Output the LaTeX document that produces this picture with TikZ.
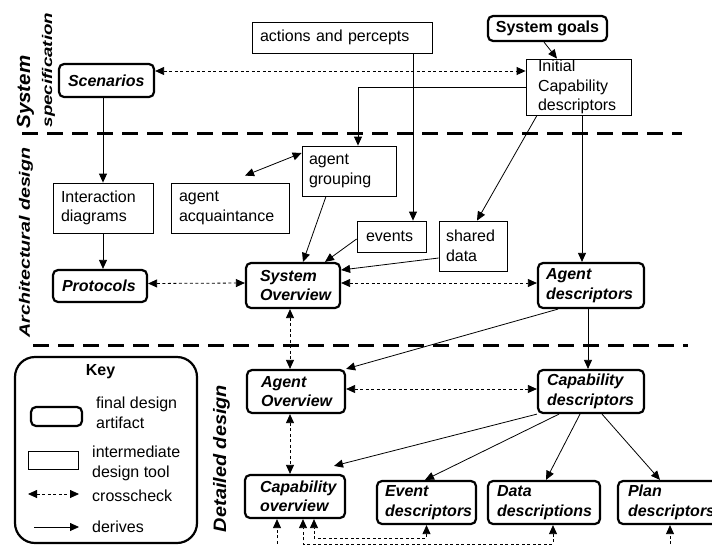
\documentclass[tikz,border=0pt]{standalone}
\usepackage{fontspec}
\setmainfont{Liberation Sans}
\usepackage{graphicx}
\usetikzlibrary{arrows.meta,calc}
\newcommand{\plainsize}{\fontsize{16pt}{19.5pt}\selectfont}
\tikzset{
  artifact/.style={draw, line width=2.2pt, rounded corners=5pt, align=left,
    inner ysep=0pt, font=\plainsize\bfseries\itshape},
  tool/.style={draw, line width=0.8pt, align=left, inner ysep=0pt, font=\plainsize},
  derive/.style={line width=0.8pt, ->},
  bothways/.style={line width=0.8pt, <->},
  crosscheck/.style={line width=0.8pt, dash pattern=on 3pt off 2.5pt, <->},
  crossin/.style={line width=0.8pt, dash pattern=on 3pt off 2.5pt, ->},
  phase/.style={line width=3pt, dash pattern=on 16pt off 9pt},
  sidelabel/.style={rotate=90, inner sep=0pt},
  keytext/.style={anchor=west, inner sep=0pt, align=left, font=\plainsize},
}
\begin{document}
\begin{tikzpicture}[x=1pt, y=-1pt, >={Triangle[length=9pt,width=8pt]}]
\useasboundingbox (0,0) rectangle (712,544);
\clip (0,0) rectangle (712,544);

% phase separators
\coordinate (sepAa) at (22,133);
\coordinate (sepAb) at (682,133);
\coordinate (sepBa) at (33,345);
\coordinate (sepBb) at (688,345);
\draw[phase] (sepAa) -- (sepAb);
\draw[phase] (sepBa) -- (sepBb);

% phase names
\node[sidelabel, font=\fontsize{19pt}{21pt}\selectfont\bfseries\itshape] (lblsys) at (25.5,92) {\scalebox{1.08}[1]{System}};
\node[sidelabel, font=\fontsize{14pt}{16pt}\selectfont\bfseries\itshape] (lblspec) at (48.5,70) {\scalebox{1.34}[1]{specification}};
\node[sidelabel, font=\fontsize{15pt}{17pt}\selectfont\bfseries\itshape] (lblarch) at (26,242.5) {\scalebox{1.31}[1]{Architectural design}};
\node[sidelabel, font=\fontsize{18pt}{20pt}\selectfont\bfseries\itshape] (lbldet) at (221.5,458.5) {\scalebox{1.105}[1]{Detailed design}};

% system specification
\node[tool, text width=164pt, inner xsep=8pt, minimum height=31pt] (ap) at (342,37.5) {actions and percepts};
\node[artifact, font=\plainsize\bfseries, align=center, minimum width=119pt, minimum height=25pt, inner xsep=0pt] (sg) at (547.5,28.5) {System goals};
\node[tool, text width=81pt, inner xsep=12pt, minimum height=56pt] (icd) at (578.5,87) {Initial\\Capability\\descriptors};
\node[artifact, text width=77pt, inner xsep=9pt, minimum height=33pt] (sc) at (106.5,80.5) {Scenarios};

% architectural design
\node[tool, text width=84pt, inner xsep=8pt, minimum height=50pt] (id) at (103,208) {Interaction\\diagrams};
\node[tool, text width=102pt, inner xsep=8pt, minimum height=50pt] (aa) at (230,208) {agent\\acquaintance};
\node[tool, text width=80pt, inner xsep=7pt, minimum height=50pt] (ag) at (349,171) {agent\\grouping};
\node[tool, text width=51pt, inner xsep=9pt, minimum height=31pt] (ev) at (391.5,236.5) {events};
\node[tool, text width=54pt, inner xsep=7pt, minimum height=50pt] (sd) at (473,246) {shared\\data};
\node[artifact, text width=76pt, inner xsep=9pt, minimum height=32pt] (pr) at (100,286) {Protocols};
\node[artifact, text width=66pt, inner xsep=14pt, minimum height=45pt] (so) at (293,285.5) {System\\Overview};
\node[artifact, text width=90pt, inner xsep=8pt, minimum height=45pt] (ad) at (591,285.5) {Agent\\descriptors};

% detailed design
\node[artifact, text width=70pt, inner xsep=14pt, minimum height=43pt] (ao) at (296,391.5) {Agent\\Overview};
\node[artifact, text width=88pt, inner xsep=9pt, minimum height=43pt] (cd) at (591,391.5) {Capability\\descriptors};
\node[artifact, text width=70pt, inner xsep=15pt, minimum height=43pt] (co) at (295,496.5) {Capability\\overview};
\node[artifact, text width=83pt, inner xsep=8pt, minimum height=43pt] (ed) at (426.5,502.5) {Event\\descriptors};
\node[artifact, text width=94pt, inner xsep=9pt, minimum height=43pt] (dd) at (544,502.5) {Data\\descriptions};
\node[artifact, text width=82pt, inner xsep=10pt, minimum height=43pt] (pd) at (669,502.5) {Plan\\descriptors};

% derivations
\draw[derive] ([xshift=-3.5pt]sg.south) -- ([xshift=-21.5pt]icd.north);
\draw[derive] (icd.west) -| ([xshift=9pt]ag.north);
\draw[derive] ([xshift=71pt]ap.south) -- ([xshift=21.5pt]ev.north);
\draw[derive] ([xshift=-41.5pt]icd.south) -- ([xshift=4pt]sd.north);
\draw[derive] ([xshift=3.5pt]icd.south) -- ([xshift=-9pt]ad.north);
\draw[derive] ([xshift=-3.5pt]sc.south) -- (id.north);
\draw[derive] (id.south) -- ([xshift=3pt]pr.north);
\draw[bothways] ([xshift=15pt,yshift=7pt]aa.north) -- ([yshift=18pt]ag.west);
\draw[derive] ([xshift=-23pt]ag.south) -- ([xshift=10pt]so.north);
\draw[derive] ([yshift=-2.5pt]ev.west) -- ([xshift=32pt]so.north);
\draw[derive] ([yshift=-12pt]sd.west) -- ([yshift=15.5pt]so.east);
\draw[derive] ([xshift=-33pt]ad.south) -- (ao.north east);
\draw[derive] ([xshift=-3pt]ad.south) -- ([xshift=-3pt]cd.north);
\draw[derive] (cd.south west) -- ([xshift=39pt,yshift=8pt]co.north);
\draw[derive] ([xshift=-32pt]cd.south) -- ([xshift=-1.5pt]ed.north);
\draw[derive] ([xshift=-11pt]cd.south) -- ([xshift=2pt]dd.north);
\draw[derive] ([xshift=11pt]cd.south) -- ([xshift=-9pt]pd.north);

% crosschecks
\draw[crosscheck] ([yshift=9.5pt]sc.east) -- ([yshift=16pt]icd.west);
\draw[crosscheck] ([yshift=2.5pt]pr.east) -- ([yshift=2.5pt]so.west);
\draw[crosscheck] ([yshift=2.5pt]so.east) -- ([yshift=2.5pt]ad.west);
\draw[crosscheck] ([xshift=-3pt]so.south) -- ([xshift=-6pt]ao.north);
\draw[crosscheck] ([yshift=2.5pt]ao.east) -- ([yshift=2.5pt]cd.west);
\draw[crosscheck] ([xshift=-6pt]ao.south) -- ([xshift=-5pt]co.north);
\draw[crosscheck] (ed.south) -- ++(0,13) -| ([xshift=19pt]co.south);
\draw[crosscheck] ([xshift=9pt]dd.south) -- ++(0,19) -| ([xshift=8pt]co.south);
\coordinate (coFree) at ([xshift=-18pt,yshift=-30pt]co.south);
\coordinate (pdFree) at ([xshift=1pt,yshift=-30pt]pd.south);
\draw[crossin] (coFree) -- ([xshift=-18pt]co.south);
\draw[crossin] (pdFree) -- ([xshift=1pt]pd.south);

% key
\node[draw, line width=2.2pt, rounded corners=20pt, minimum width=182pt, minimum height=186pt] (keybox) at (106,450) {};
\node[inner sep=0pt, font=\plainsize\bfseries] (keytitle) at (100.5,372) {Key};
\node[draw, line width=2.2pt, rounded corners=5pt, minimum width=51pt, minimum height=19pt] (keyart) at (56.5,416.5) {};
\node[keytext] (keyarttxt) at (96,413) {final design\\artifact};
\node[draw, line width=0.8pt, minimum width=50pt, minimum height=18pt] (keytool) at (53,460) {};
\node[keytext] (keytooltxt) at (92,463.5) {intermediate\\design tool};
\coordinate (keyCa) at (28,494);
\coordinate (keyCb) at (79,494);
\draw[crosscheck] (keyCa) -- (keyCb);
\node[keytext] (keycrosstxt) at (92,496) {crosscheck};
\coordinate (keyDa) at (34,527);
\coordinate (keyDb) at (79,527);
\draw[derive] (keyDa) -- (keyDb);
\node[keytext] (keyderivetxt) at (92,527) {derives};
\end{tikzpicture}
\end{document}
